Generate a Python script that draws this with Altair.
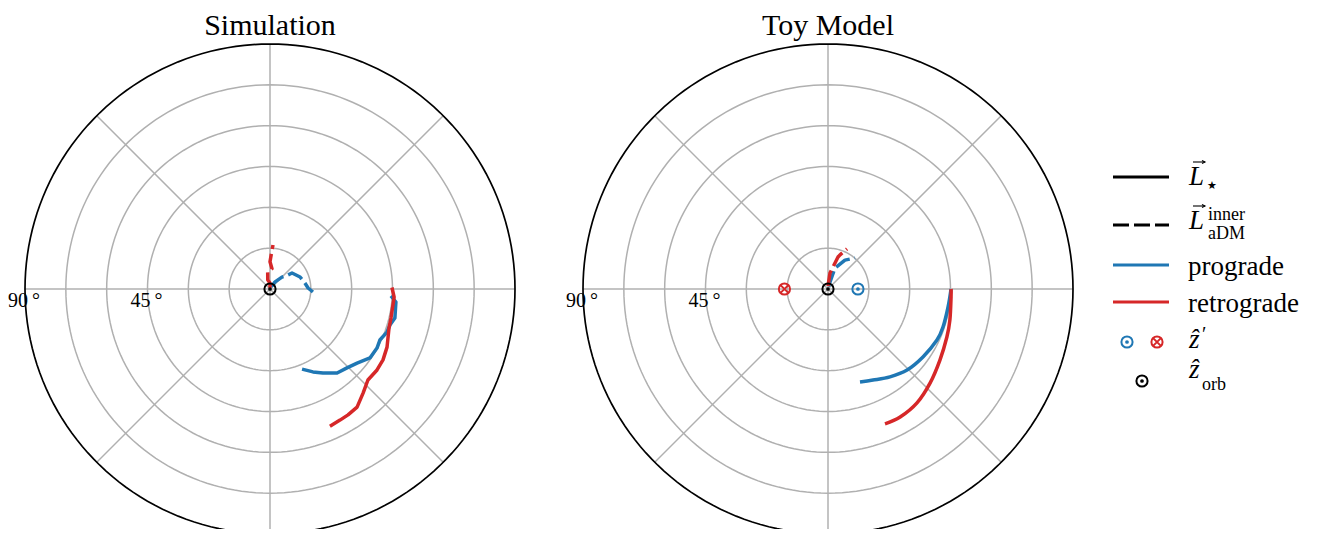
import altair as alt
import numpy as np
import pandas as pd

# ---------------- data (phi = polar angle [deg], r = tilt [deg]) ----------------
# Simulation panel
sim_pro_star_phi = [-3.3, -5.9, -13.1, -16.7, -20.2, -24.9, -28.9, -34.6, -40.4, -45.7, -51.4, -57.8, -62.6, -68.2]
sim_pro_star_r = [44.5, 46.5, 47.1, 46.0, 45.8, 44.5, 44.9, 44.6, 42.0, 40.5, 39.5, 36.5, 34.3, 31.7]
sim_ret_star_phi = [0.7, -3.7, -13.5, -18.1, -26.4, -32.1, -37.1, -42.9, -48.2, -53.6, -58.2, -61.9, -66.4]
sim_ret_star_r = [44.8, 45.7, 45.7, 46.0, 48.0, 49.0, 49.3, 49.1, 51.3, 53.9, 54.4, 54.6, 55.0]
sim_pro_dm_phi = [60.0, 54.5, 45.0, 37.9, 36.0, 21.8, 9.7, 1.5, -4.0]
sim_pro_dm_r = [1.0, 3.2, 6.2, 8.4, 10.0, 11.9, 13.0, 14.0, 15.8]
sim_ret_dm_phi = [90.0, 90.0, 104.0, 97.7, 84.4, 90.0, 87.4, 86.1]
sim_ret_dm_r = [0.5, 2.2, 3.4, 6.3, 7.5, 10.0, 13.7, 16.2]

# Toy model panel
toy_pro_star_phi = [0.0, -8.5, -18.3, -25.1, -35.6, -45.7, -54.8, -63.7, -71.0]
toy_pro_star_r = [45.2, 44.6, 44.5, 44.2, 42.9, 41.6, 39.5, 37.3, 36.1]
toy_ret_star_phi = [0.0, -3.7, -14.3, -22.0, -32.4, -42.7, -52.0, -60.6, -67.1]
toy_ret_star_r = [45.2, 45.3, 46.2, 47.1, 48.7, 51.0, 53.1, 54.0, 53.8]
toy_pro_dm_phi = [80.0, 71.6, 59.6, 48.9]
toy_pro_dm_r = [1.0, 8.1, 12.3, 15.1]
toy_ret_dm_phi = [90.0, 82.9, 77.2, 72.6, 70.6, 64.6]
toy_ret_dm_r = [1.1, 5.9, 8.3, 12.3, 13.3, 16.3]

# marker positions: z_orb at pole, z' for prograde / retrograde (toy)
zorb_phi, zorb_r = [0.0], [0.0]
zpro_phi, zpro_r = [0.0], [11.0]
zret_phi, zret_r = [180.0], [16.0]

ring_levels = [15, 30, 45, 60, 75]
spoke_angles = [0, 45, 90, 135, 180, 225, 270, 315]
r_tick_values = [90, 45]
r_tick_labels = ["90\u2009°", "45\u2009°"]
titles = ["Simulation", "Toy Model"]
legend_labels = ["prograde", "retrograde"]

# ---------------- styling ----------------
FONT = "Liberation Serif"
BLUE = "#1f77b4"
RED = "#d62728"
GRID = "#b0b0b0"
DASH = [16, 5]
LW = 3.5
K = 490 / 180.0          # px per degree (outer ring radius 245 px)
TOP = 90 + 36 / K        # view starts 36 px above the outer ring
BOTTOM = TOP - 521 / K   # view is 521 px tall
LEFT = -90 - 17 / K      # 17 px left of the outer ring for the r labels
RIGHT = 90 + 2 / K
PW = 509                 # panel width in px
H = 521


def pdf(phi, r):
    return pd.DataFrame({"phi": phi, "r": r, "i": list(range(len(phi)))})


def grid_frames():
    rows = []
    t = np.arange(0, 360.1, 2)
    for g in ring_levels:
        for j, a in enumerate(t):
            rows.append({"g": g, "phi": a, "r": g, "i": j})
    rings = pd.DataFrame(rows)
    outer = pd.DataFrame({"g": 90, "phi": t, "r": 90, "i": range(len(t))})
    srows = []
    for s in spoke_angles:
        srows.append({"g": s, "phi": s, "r": 0, "i": 0})
        srows.append({"g": s, "phi": s, "r": 90, "i": 1})
    spokes = pd.DataFrame(srows)
    return rings, outer, spokes


def enc(ch, xs, ys, detail=None):
    kw = dict(
        x=alt.X("x:Q", scale=xs, axis=None),
        y=alt.Y("y:Q", scale=ys, axis=None),
    )
    if detail:
        kw["detail"] = detail
    return ch.transform_calculate(
        x="datum.r*cos(datum.phi*PI/180)", y="datum.r*sin(datum.phi*PI/180)"
    ).encode(**kw)


def line(df, xs, ys, color, dashed=False, width=LW, smooth=False):
    props = dict(color=color, strokeWidth=width, strokeCap="butt", strokeJoin="round", clip=True)
    if dashed:
        props["strokeDash"] = DASH
    if smooth:
        props["interpolate"] = "cardinal"
    ch = alt.Chart(df).mark_line(**props)
    return enc(ch, xs, ys).encode(order="i:Q")


def odot(df, xs, ys, color):
    c1 = enc(alt.Chart(df).mark_point(shape="circle", filled=False, size=125, clip=True,
                                      strokeWidth=2, color=color, opacity=1), xs, ys)
    c2 = enc(alt.Chart(df).mark_point(shape="circle", filled=True, size=14, clip=True,
                                      color=color, opacity=1), xs, ys)
    return [c1, c2]


def otimes(df, xs, ys, color):
    c1 = enc(alt.Chart(df).mark_point(shape="circle", filled=False, size=125, clip=True,
                                      strokeWidth=2, color=color, opacity=1), xs, ys)
    c2 = enc(alt.Chart(df).mark_point(shape="M-0.7,-0.7L0.7,0.7M-0.7,0.7L0.7,-0.7",
                                      filled=False, size=125, strokeWidth=2, clip=True,
                                      color=color, opacity=1), xs, ys)
    return [c1, c2]


def panel(title, traces, markers, smooth=False):
    xs = alt.Scale(domain=[LEFT, RIGHT], nice=False, zero=False)
    ys = alt.Scale(domain=[BOTTOM, TOP], nice=False, zero=False)
    rings, outer, spokes = grid_frames()
    layers = [
        enc(alt.Chart(rings).mark_line(color=GRID, strokeWidth=1.5, clip=True), xs, ys, "g:N").encode(order="i:Q"),
        enc(alt.Chart(spokes).mark_line(color=GRID, strokeWidth=1.5, clip=True), xs, ys, "g:N").encode(order="i:Q"),
        enc(alt.Chart(outer).mark_line(color="black", strokeWidth=1.7, clip=True), xs, ys).encode(order="i:Q"),
    ]
    lab = pd.DataFrame({"phi": [180, 180], "r": r_tick_values, "label": r_tick_labels})
    layers.append(enc(alt.Chart(lab).mark_text(font=FONT, fontSize=20, align="center", clip=True,
                                               baseline="alphabetic", dy=18, dx=-1, color="black"),
                      xs, ys).encode(text="label:N"))
    for df, color, dashed in traces:
        layers.append(line(df, xs, ys, color, dashed, smooth=smooth and not dashed))
    layers += markers(xs, ys)
    tdf = pd.DataFrame({"t": [title]})
    layers.append(alt.Chart(tdf).mark_text(font=FONT, fontSize=30, align="center",
                                           baseline="alphabetic", color="black")
                  .encode(x=alt.value(262), y=alt.value(27), text="t:N"))
    return alt.layer(*layers).properties(width=PW, height=H)


left = panel(
    titles[0],
    [
        (pdf(sim_pro_dm_phi, sim_pro_dm_r), BLUE, True),
        (pdf(sim_ret_dm_phi, sim_ret_dm_r), RED, True),
        (pdf(sim_pro_star_phi, sim_pro_star_r), BLUE, False),
        (pdf(sim_ret_star_phi, sim_ret_star_r), RED, False),
    ],
    lambda xs, ys: odot(pdf(zorb_phi, zorb_r), xs, ys, "black"),
)

right = panel(
    titles[1],
    [
        (pdf(toy_pro_dm_phi, toy_pro_dm_r), BLUE, True),
        (pdf(toy_ret_dm_phi, toy_ret_dm_r), RED, True),
        (pdf(toy_pro_star_phi, toy_pro_star_r), BLUE, False),
        (pdf(toy_ret_star_phi, toy_ret_star_r), RED, False),
    ],
    lambda xs, ys: odot(pdf(zorb_phi, zorb_r), xs, ys, "black")
    + odot(pdf(zpro_phi, zpro_r), xs, ys, BLUE)
    + otimes(pdf(zret_phi, zret_r), xs, ys, RED),
    smooth=True,
)

# ---------------- legend panel (pixel layout) ----------------
one = pd.DataFrame({"a": [0]})


def lrule(y, color, dashed=False, x1=13, x2=69, width=3):
    props = dict(color=color, strokeWidth=width, strokeCap="butt")
    if dashed:
        props["strokeDash"] = DASH
    return alt.Chart(one).mark_rule(**props).encode(
        x=alt.value(x1), x2=alt.value(x2), y=alt.value(y))


def ltext(txt, x, y, size=27, style="normal", align="left", baseline="alphabetic", font=FONT):
    return alt.Chart(pd.DataFrame({"t": [txt]})).mark_text(
        font=font, fontSize=size, fontStyle=style, align=align, baseline=baseline,
        color="black").encode(x=alt.value(x), y=alt.value(y), text="t:N")


def lpoint(x, y, color, shape="circle", filled=False, size=125, sw=2):
    return alt.Chart(one).mark_point(shape=shape, filled=filled, size=size,
                                     strokeWidth=sw, color=color, opacity=1).encode(
        x=alt.value(x), y=alt.value(y))


def vec_arrow(x, y):
    # small vector arrow drawn above a symbol
    return [
        lrule(y, "black", x1=x, x2=x + 12, width=1.1),
        lpoint(x + 10.5, y, "black", shape="M-1,-1L1,0L-1,1", size=9, sw=1.1),
    ]


XSHAPE = "M-0.7,-0.7L0.7,0.7M-0.7,0.7L0.7,-0.7"
legend = alt.layer(
    lrule(169, "black"),
    lrule(217, "black", dashed=True),
    lrule(257, BLUE),
    lrule(294, RED),
    # L_star
    ltext("L", 89, 177, style="italic"),
    *vec_arrow(93, 154),
    ltext("★", 112, 181, size=11, align="center", baseline="alphabetic", font="DejaVu Sans"),
    # L_aDM^inner
    ltext("L", 89, 221, style="italic"),
    *vec_arrow(93, 198),
    ltext("inner", 108, 212, size=18),
    ltext("aDM", 108, 231, size=18),
    ltext(legend_labels[0], 88, 267),
    ltext(legend_labels[1], 88, 304),
    # z'
    lpoint(27, 334, BLUE), lpoint(27, 334, BLUE, filled=True, size=14),
    lpoint(57, 334, RED), lpoint(57, 334, RED, shape=XSHAPE),
    ltext("ẑ", 89, 340, style="italic"),
    ltext("′", 102, 333, size=20),
    # z_orb
    lpoint(42, 373, "black"), lpoint(42, 373, "black", filled=True, size=14),
    ltext("ẑ", 89, 370, style="italic"),
    ltext("orb", 102, 382, size=18),
).properties(width=215, height=H)

chart = alt.hconcat(
    alt.hconcat(left, right, spacing=49),
    legend,
    spacing=25,
).properties(padding={"left": 0, "top": 0, "right": 0, "bottom": 0}).configure_view(stroke=None)

chart.save("out.html", embed_options={"renderer": "svg", "actions": False})
